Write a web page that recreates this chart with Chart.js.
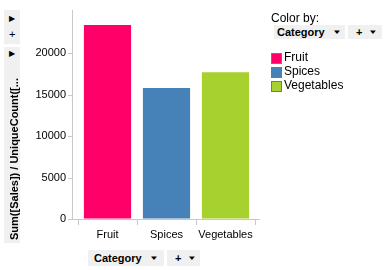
<!DOCTYPE html>
<html>
<head>
<meta charset="utf-8">
<script src="https://cdn.jsdelivr.net/npm/chart.js@4"></script>
<style>
  body { margin: 0; background: #fff; font-family: "Liberation Sans", Arial, sans-serif; }
  #wrap { position: relative; width: 386px; height: 270px; overflow: hidden; }
  #c { position: absolute; left: 0; top: 0; }
  .box { position: absolute; background: #f0f0f0; font-size: 11px; color: #000; white-space: nowrap; box-sizing: border-box; }
  .bold { font-weight: bold; }
  .arrow { position: absolute; font-size: 8px; }
  .sw { position: absolute; width: 11px; height: 11px; box-sizing: border-box; border: 1px solid #777; }
  .lg { position: absolute; font-size: 12px; color: #000; }
  .dd { font-size: 10px; position: absolute; top: 0; transform: scaleY(0.6); }
</style>
</head>
<body>
<div id="wrap">
  <canvas id="c" width="386" height="270"></canvas>

  <!-- left axis selector -->
  <div class="box" style="left:4px;top:10px;width:16px;height:34px;">
    <div class="arrow" style="left:5px;top:4px;">&#9654;</div>
    <div style="position:absolute;left:5px;top:18px;font-size:11px;">+</div>
  </div>
  <div class="box" style="left:4px;top:47px;width:16px;height:196px;">
    <div class="arrow" style="left:5px;top:2px;">&#9654;</div>
    <div class="bold" style="position:absolute;left:-80px;top:105px;width:180px;height:14px;line-height:14px;transform:rotate(-90deg);transform-origin:center;font-size:11px;white-space:nowrap;text-align:center;">Sum([Sales]) / UniqueCount([...</div>
  </div>

  <!-- legend -->
  <div class="lg" style="left:271px;top:11px;">Color by:</div>
  <div class="box bold" style="left:274px;top:25px;width:71px;height:14px;line-height:14px;padding-left:3px;">Category<span class="dd" style="left:58px;">&#9660;</span></div>
  <div class="box bold" style="left:348px;top:25px;width:34px;height:14px;line-height:14px;padding-left:8px;">+<span class="dd" style="left:20px;">&#9660;</span></div>
  <div id="legend"></div>

  <!-- bottom axis selector -->
  <div class="box bold" style="left:88px;top:250px;width:76px;height:16px;line-height:16px;padding-left:6px;">Category<span class="dd" style="left:61px;">&#9660;</span></div>
  <div class="box bold" style="left:167px;top:250px;width:33px;height:16px;line-height:16px;padding-left:8px;">+<span class="dd" style="left:20px;">&#9660;</span></div>
</div>

<script>
// data
const categories = ['Fruit', 'Spices', 'Vegetables'];
const salesValues = [23400, 15800, 17700];
const barColors = ['#FF0068', '#4682B8', '#A6D12F'];
const yTickValues = [0, 5000, 10000, 15000, 20000];

// legend (html text)
const legend = document.querySelector('#legend');
categories.forEach((cat, i) => {
  const top = 53 + i * 14;
  legend.innerHTML += `<div class="sw" style="left:271px;top:${top}px;background:${barColors[i]}"></div>` +
    `<div class="lg" style="left:284px;top:${top - 3}px;">${cat}</div>`;
});

// axis lines sit a little outside the plot area, like the original
const axisLines = {
  id: 'axisLines',
  afterDraw(chart) {
    const c = chart.ctx;
    const a = chart.chartArea;
    const y = chart.scales.y;
    const yx = a.left - 6;
    c.save();
    c.strokeStyle = '#c8c8c8';
    c.lineWidth = 1;
    c.beginPath();
    c.moveTo(yx + 0.5, a.top);
    c.lineTo(yx + 0.5, a.bottom);
    y.ticks.forEach(t => {
      const py = Math.round(y.getPixelForValue(t.value)) + 0.5;
      c.moveTo(yx - 4, py);
      c.lineTo(yx + 0.5, py);
    });
    c.moveTo(yx - 4, a.bottom + 0.5);
    c.lineTo(a.right + 5, a.bottom + 0.5);
    c.stroke();
    c.restore();
  }
};

const ctx = document.querySelector('#c');

new Chart(ctx, {
  type: 'bar',
  data: {
    labels: categories,
    datasets: [{
      data: salesValues,
      backgroundColor: barColors,
      borderWidth: 0,
      categoryPercentage: 1,
      barPercentage: 0.8
    }]
  },
  options: {
    responsive: false,
    animation: false,
    layout: { padding: { left: 0, top: 10, right: 131, bottom: 0 } },
    plugins: { legend: { display: false }, tooltip: { enabled: false } },
    scales: {
      x: {
        afterFit: (s) => { s.height = 51; },
        grid: { drawOnChartArea: false, color: '#c8c8c8', tickLength: 6, offset: true },
        border: { display: false },
        ticks: {
          color: '#000',
          font: { family: 'Liberation Sans', size: 11 },
          padding: 3,
          maxRotation: 0,
          minRotation: 0,
          autoSkip: false
        }
      },
      y: {
        min: 0,
        max: 25200,
        afterFit: (s) => { s.width = 78; },
        afterBuildTicks: (s) => { s.ticks = yTickValues.map(v => ({ value: v })); },
        grid: { drawOnChartArea: false, color: 'rgba(0,0,0,0)', tickLength: 10 },
        border: { display: false },
        ticks: {
          color: '#000',
          font: { family: 'Liberation Sans', size: 11 },
          padding: 2,
          callback: (v) => String(v)
        }
      }
    }
  },
  plugins: [axisLines]
});
</script>
</body>
</html>
